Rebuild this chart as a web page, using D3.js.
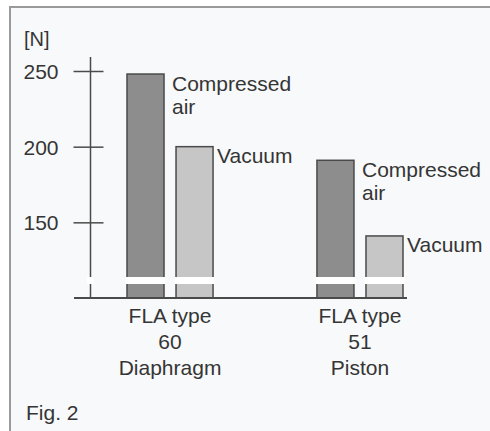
<!DOCTYPE html>
<html>
<head>
<meta charset="utf-8">
<script src="https://cdn.jsdelivr.net/npm/d3@7"></script>
<style>
  body { margin: 0; background: #fff; }
  text { font-family: "Liberation Sans", Arial, sans-serif; fill: #353535; }
</style>
</head>
<body>
<svg id="chart" width="490" height="431"></svg>
<script>
// chart data
const groups = ["FLA type 60 Diaphragm", "FLA type 51 Piston"];
const groupLabels = [["FLA type", "60", "Diaphragm"], ["FLA type", "51", "Piston"]];
const series = ["Compressed air", "Vacuum"];
const seriesLabels = [["Compressed", "air"], ["Vacuum"]];
const compressedAir = [248, 191];
const vacuum = [200, 141];
const yTicks = [150, 200, 250];

const svg = d3.select("#chart");

// frame
svg.append("rect")
    .attr("x", 10).attr("y", 7)
    .attr("width", 490).attr("height", 440)
    .attr("fill", "#f8f9fa")
    .attr("stroke", "#9a9a9a")
    .attr("stroke-width", 2);

const y = d3.scaleLinear().domain([100, 250]).range([298, 71]);

const x0 = d3.scaleBand().domain(groups).range([127, 403]).paddingInner(0.547);
const x1 = d3.scaleBand().domain(series).range([0, x0.bandwidth()]).paddingInner(0.245);

const fills = ["#8d8d8d", "#c6c6c6"];

const rows = groups.map((g, i) => series.map((s, j) => ({
    group: g,
    series: s,
    j: j,
    value: [compressedAir, vacuum][j][i]
}))).flat();

// bars
svg.append("g")
    .selectAll("rect")
    .data(rows)
    .join("rect")
    .attr("x", d => x0(d.group) + x1(d.series))
    .attr("y", d => y(d.value))
    .attr("width", x1.bandwidth())
    .attr("height", d => y(100) - y(d.value))
    .attr("fill", d => fills[d.j])
    .attr("stroke", "#4a4a4a")
    .attr("stroke-width", 1.5);

// labels next to bars
svg.append("g")
    .selectAll("text")
    .data(rows)
    .join("text")
    .attr("x", d => x0(d.group) + x1(d.series) + x1.bandwidth() + (d.j ? 4 : 8))
    .attr("y", d => y(d.value) + (d.j ? 16 : 17))
    .attr("font-size", 21)
    .each(function (d) {
        const t = d3.select(this);
        seriesLabels[d.j].forEach((line, k) => {
            t.append("tspan")
                .attr("x", t.attr("x"))
                .attr("dy", k ? 23 : 0)
                .text(line);
        });
    });

// y axis
const axis = svg.append("g")
    .attr("transform", "translate(90.5,0)")
    .call(d3.axisLeft(y).tickValues(yTicks).tickSize(17));
axis.select(".domain").remove();
axis.selectAll(".tick line")
    .attr("x1", 13)
    .attr("stroke", "#4a4a4a")
    .attr("stroke-width", 1.5);
axis.selectAll(".tick text")
    .attr("x", -32)
    .attr("dy", "0.36em")
    .attr("font-size", 21)
    .attr("font-family", "Liberation Sans, Arial, sans-serif")
    .attr("fill", "#353535");

svg.append("line")
    .attr("x1", 90.5).attr("x2", 90.5)
    .attr("y1", y(250) - 14).attr("y2", y(100))
    .attr("stroke", "#4a4a4a")
    .attr("stroke-width", 1.5);

svg.append("text")
    .attr("x", 24).attr("y", 46)
    .attr("font-size", 20)
    .text("[N]");

// axis break: gaps cut through the axis and each bar
const breakY = 277, breakH = 7;
svg.append("rect")
    .attr("x", 87).attr("y", breakY)
    .attr("width", 7).attr("height", breakH)
    .attr("fill", "#ffffff");
svg.append("g")
    .selectAll("rect")
    .data(rows)
    .join("rect")
    .attr("x", d => x0(d.group) + x1(d.series) - 1.5)
    .attr("y", breakY)
    .attr("width", x1.bandwidth() + 3)
    .attr("height", breakH)
    .attr("fill", "#ffffff");

// baseline
svg.append("line")
    .attr("x1", 74).attr("x2", 407)
    .attr("y1", y(100)).attr("y2", y(100))
    .attr("stroke", "#4a4a4a")
    .attr("stroke-width", 1.8);

// category labels
svg.append("g")
    .selectAll("text")
    .data(groups)
    .join("text")
    .attr("text-anchor", "middle")
    .attr("font-size", 21)
    .attr("y", 323)
    .each(function (g, i) {
        const t = d3.select(this);
        const cx = x0(g) + x0.bandwidth() / 2;
        groupLabels[i].forEach((line, k) => {
            t.append("tspan")
                .attr("x", cx)
                .attr("dy", k ? 26 : 0)
                .text(line);
        });
    });

svg.append("text")
    .attr("x", 26).attr("y", 420)
    .attr("font-size", 21)
    .text("Fig. 2");
</script>
</body>
</html>
